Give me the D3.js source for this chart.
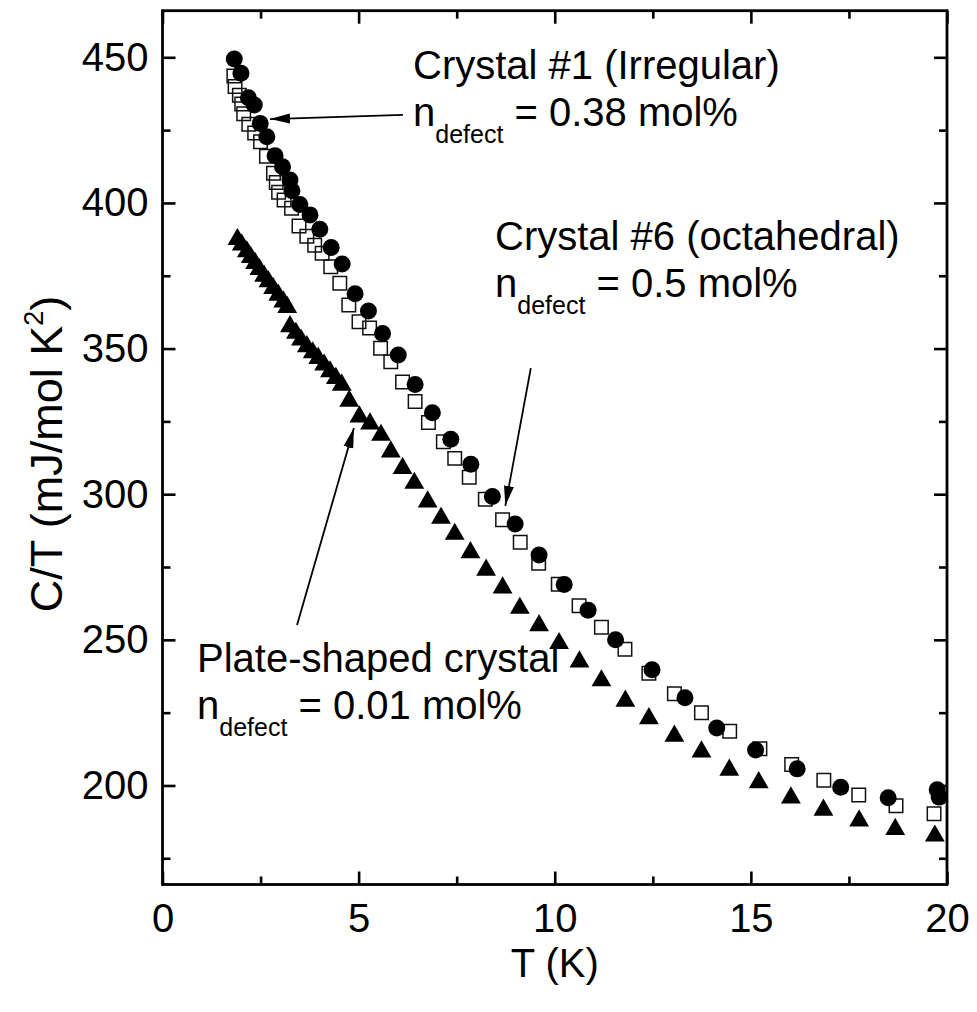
<!DOCTYPE html>
<html>
<head>
<meta charset="utf-8">
<script src="https://cdn.jsdelivr.net/npm/d3@7"></script>
<style>
  body { margin: 0; background: #fff; }
  svg { display: block; }
  text { font-family: "Liberation Sans", Arial, Helvetica, sans-serif; fill: #000; }
</style>
</head>
<body>
<svg id="chart" width="977" height="1012"></svg>
<script>
// C/T vs T, three crystals
var irregularData = [ // filled circles, Crystal #1
  [1.83, 449.4], [2.0, 444.5], [2.19, 436.1], [2.34, 433.6], [2.49, 427.3],
  [2.66, 422.7], [2.87, 416.2], [3.06, 412.4], [3.25, 407.9], [3.3, 404.2],
  [3.5, 399.5], [3.76, 395.9], [4.01, 391], [4.3, 384.7], [4.58, 379],
  [4.91, 368.8], [5.25, 362.9], [5.61, 355.2], [6.01, 347.8], [6.44, 337.7],
  [6.88, 328], [7.35, 318.9], [7.86, 310.3], [8.41, 299.2], [8.99, 289.8],
  [9.6, 279.1], [10.24, 269], [10.85, 260.2], [11.55, 250], [12.48, 239.7],
  [13.32, 230.1], [14.13, 219.7], [15.12, 212.2], [16.18, 205.7], [17.29, 199.4],
  [18.5, 195.8], [19.75, 198.5], [19.8, 196]
];
var octahedralData = [ // open squares, Crystal #6
  [1.82, 443.6], [1.85, 440], [1.96, 437], [2.02, 434], [2.07, 430.6],
  [2.2, 427], [2.35, 424], [2.5, 421], [2.65, 416], [2.83, 410.2],
  [2.9, 407], [2.96, 403.7], [3.1, 401], [3.29, 398.2], [3.48, 392.1],
  [3.68, 388.6], [3.88, 385.5], [4.07, 382.7], [4.29, 378.1], [4.52, 372.4],
  [4.75, 365], [5.01, 359.2], [5.28, 357.1], [5.56, 350.1], [5.82, 345.5],
  [6.12, 338.5], [6.44, 331.8], [6.78, 324.6], [7.16, 318], [7.45, 312.3],
  [7.82, 305.8], [8.23, 298.3], [8.67, 291.2], [9.12, 283.5], [9.59, 276.3],
  [10.09, 269.1], [10.62, 261.7], [11.19, 254.3], [11.79, 246.8], [12.4, 238.5],
  [13.05, 231.5], [13.74, 225], [14.46, 218.6], [15.23, 212.6], [16.04, 207.2],
  [16.86, 201.8], [17.75, 196.7], [18.7, 193], [19.67, 190.3]
];
var plateData = [ // filled triangles, plate-shaped crystal
  [1.91, 387.5], [2.02, 385.6], [2.15, 383.3], [2.25, 381.3], [2.36, 379.3],
  [2.47, 377.2], [2.59, 374.9], [2.7, 373], [2.82, 370.7], [2.95, 368.4],
  [3.08, 366.1], [3.18, 364.2], [3.25, 357.6], [3.4, 355.3], [3.53, 353],
  [3.68, 350.7], [3.83, 348.6], [3.97, 346.7], [4.12, 344.4], [4.27, 342.1],
  [4.42, 339.8], [4.57, 337.5], [4.76, 332], [5.02, 326.6], [5.29, 324.2],
  [5.57, 320.3], [5.82, 314.6], [6.12, 308.9], [6.42, 303.8], [6.76, 297.4],
  [7.1, 291.8], [7.45, 286.3], [7.85, 280], [8.25, 274], [8.67, 267.9],
  [9.11, 260.9], [9.6, 254.9], [10.11, 248.8], [10.63, 242.5], [11.19, 236],
  [11.8, 229], [12.4, 223], [13.05, 217], [13.74, 211.6], [14.45, 205.3],
  [15.2, 201], [16.02, 195.8], [16.85, 191.6], [17.76, 187.9], [18.68, 185],
  [19.69, 182.7]
];

var xMajor = [0, 5, 10, 15, 20];
var xMinor = [2.5, 7.5, 12.5, 17.5];
var yMajor = [200, 250, 300, 350, 400, 450];
var yMinor = [175, 225, 275, 325, 375, 425];

// arrows: [fromT, fromC, toT, toC]
var arrows = [
  [6.13, 430.2, 2.74, 428.8],
  [9.39, 343.3, 8.74, 296],
  [3.43, 255.1, 4.88, 322.7]
];

(function() {
  var svg = d3.select("#chart");
  var pLeft = 162.5, pRight = 947, pTop = 10.7, pBottom = 884.5;

  var x = d3.scaleLinear().domain([0, 20]).range([pLeft, pRight]);
  var y = d3.scaleLinear().domain([166, 466]).range([pBottom, pTop]);

  // ticks all point inward
  function addAxis(gen, tx, ty, vals, size, labels, pad) {
    var g = svg.append("g")
      .attr("transform", "translate(" + tx + "," + ty + ")")
      .call(gen.tickValues(vals).tickSizeInner(size).tickSizeOuter(0).tickPadding(pad || 0)
        .tickFormat(labels ? d3.format("d") : ""));
    g.select(".domain").remove();
    g.selectAll("line").attr("stroke", "#000").attr("stroke-width", 2.6);
    g.selectAll("text").attr("font-size", 40)
      .attr("font-family", "Liberation Sans, Arial, sans-serif").attr("fill", "#000");
    return g;
  }

  addAxis(d3.axisBottom(x), 0, pBottom, xMajor, -13, true, 19);
  addAxis(d3.axisBottom(x), 0, pBottom, xMinor, -8, false);
  addAxis(d3.axisTop(x), 0, pTop, xMajor, -13, false);
  addAxis(d3.axisTop(x), 0, pTop, xMinor, -8, false);
  addAxis(d3.axisLeft(y), pLeft, 0, yMajor, -13, true, 14);
  addAxis(d3.axisLeft(y), pLeft, 0, yMinor, -8, false);
  addAxis(d3.axisRight(y), pRight, 0, yMajor, -13, false);
  addAxis(d3.axisRight(y), pRight, 0, yMinor, -8, false);

  svg.append("rect")
    .attr("x", pLeft).attr("y", pTop)
    .attr("width", pRight - pLeft).attr("height", pBottom - pTop)
    .attr("fill", "none").attr("stroke", "#000").attr("stroke-width", 2.8);

  // axis titles
  svg.append("text")
    .attr("x", (pLeft + pRight) / 2).attr("y", 977)
    .attr("text-anchor", "middle").attr("font-size", 40)
    .text("T (K)");

  var yt = svg.append("text")
    .attr("transform", "translate(62,454) rotate(-90)")
    .attr("text-anchor", "middle").attr("font-size", 45);
  yt.append("tspan").text("C/T (mJ/mol K");
  yt.append("tspan").attr("font-size", 27).attr("dy", -19).text("2");
  yt.append("tspan").attr("dy", 19).text(")");

  // data
  var plot = svg.append("g");

  plot.selectAll(".sq").data(octahedralData).enter()
    .append("path")
    .attr("class", "sq")
    .attr("transform", d => "translate(" + x(d[0]) + "," + y(d[1]) + ")")
    .attr("d", d3.symbol().type(d3.symbolSquare).size(182))
    .attr("fill", "none").attr("stroke", "#111").attr("stroke-width", 1.5);

  plot.selectAll(".ci").data(irregularData).enter()
    .append("circle")
    .attr("class", "ci")
    .attr("cx", d => x(d[0])).attr("cy", d => y(d[1]))
    .attr("r", 8.5).attr("fill", "#000");

  plot.selectAll(".tr").data(plateData).enter()
    .append("path")
    .attr("class", "tr")
    .attr("transform", d => "translate(" + x(d[0]) + "," + y(d[1]) + ")")
    .attr("d", d3.symbol().type(d3.symbolTriangle).size(170))
    .attr("fill", "#000");

  // arrows
  svg.append("defs").append("marker")
    .attr("id", "head").attr("markerUnits", "userSpaceOnUse")
    .attr("viewBox", "0 -6 20 12").attr("refX", 20).attr("refY", 0)
    .attr("markerWidth", 20).attr("markerHeight", 12).attr("orient", "auto")
    .append("path").attr("d", "M0,-5L20,0L0,5Z").attr("fill", "#000");

  svg.selectAll(".arrow").data(arrows).enter()
    .append("line")
    .attr("x1", d => x(d[0])).attr("y1", d => y(d[1]))
    .attr("x2", d => x(d[2])).attr("y2", d => y(d[3]))
    .attr("stroke", "#000").attr("stroke-width", 1.8)
    .attr("marker-end", "url(#head)");

  // annotations
  function label(px, py, title, amount) {
    svg.append("text").attr("x", px).attr("y", py).attr("font-size", 40).text(title);
    var t = svg.append("text").attr("x", px).attr("y", py + 47).attr("font-size", 40);
    t.append("tspan").text("n");
    t.append("tspan").attr("font-size", 25).attr("dy", 17).text("defect");
    t.append("tspan").attr("dy", -17).text(" = " + amount);
  }
  label(413, 79, "Crystal #1 (Irregular)", "0.38 mol%");
  label(495, 250, "Crystal #6 (octahedral)", "0.5 mol%");
  label(197, 672, "Plate-shaped crystal", "0.01 mol%");
})();
</script>
</body>
</html>
